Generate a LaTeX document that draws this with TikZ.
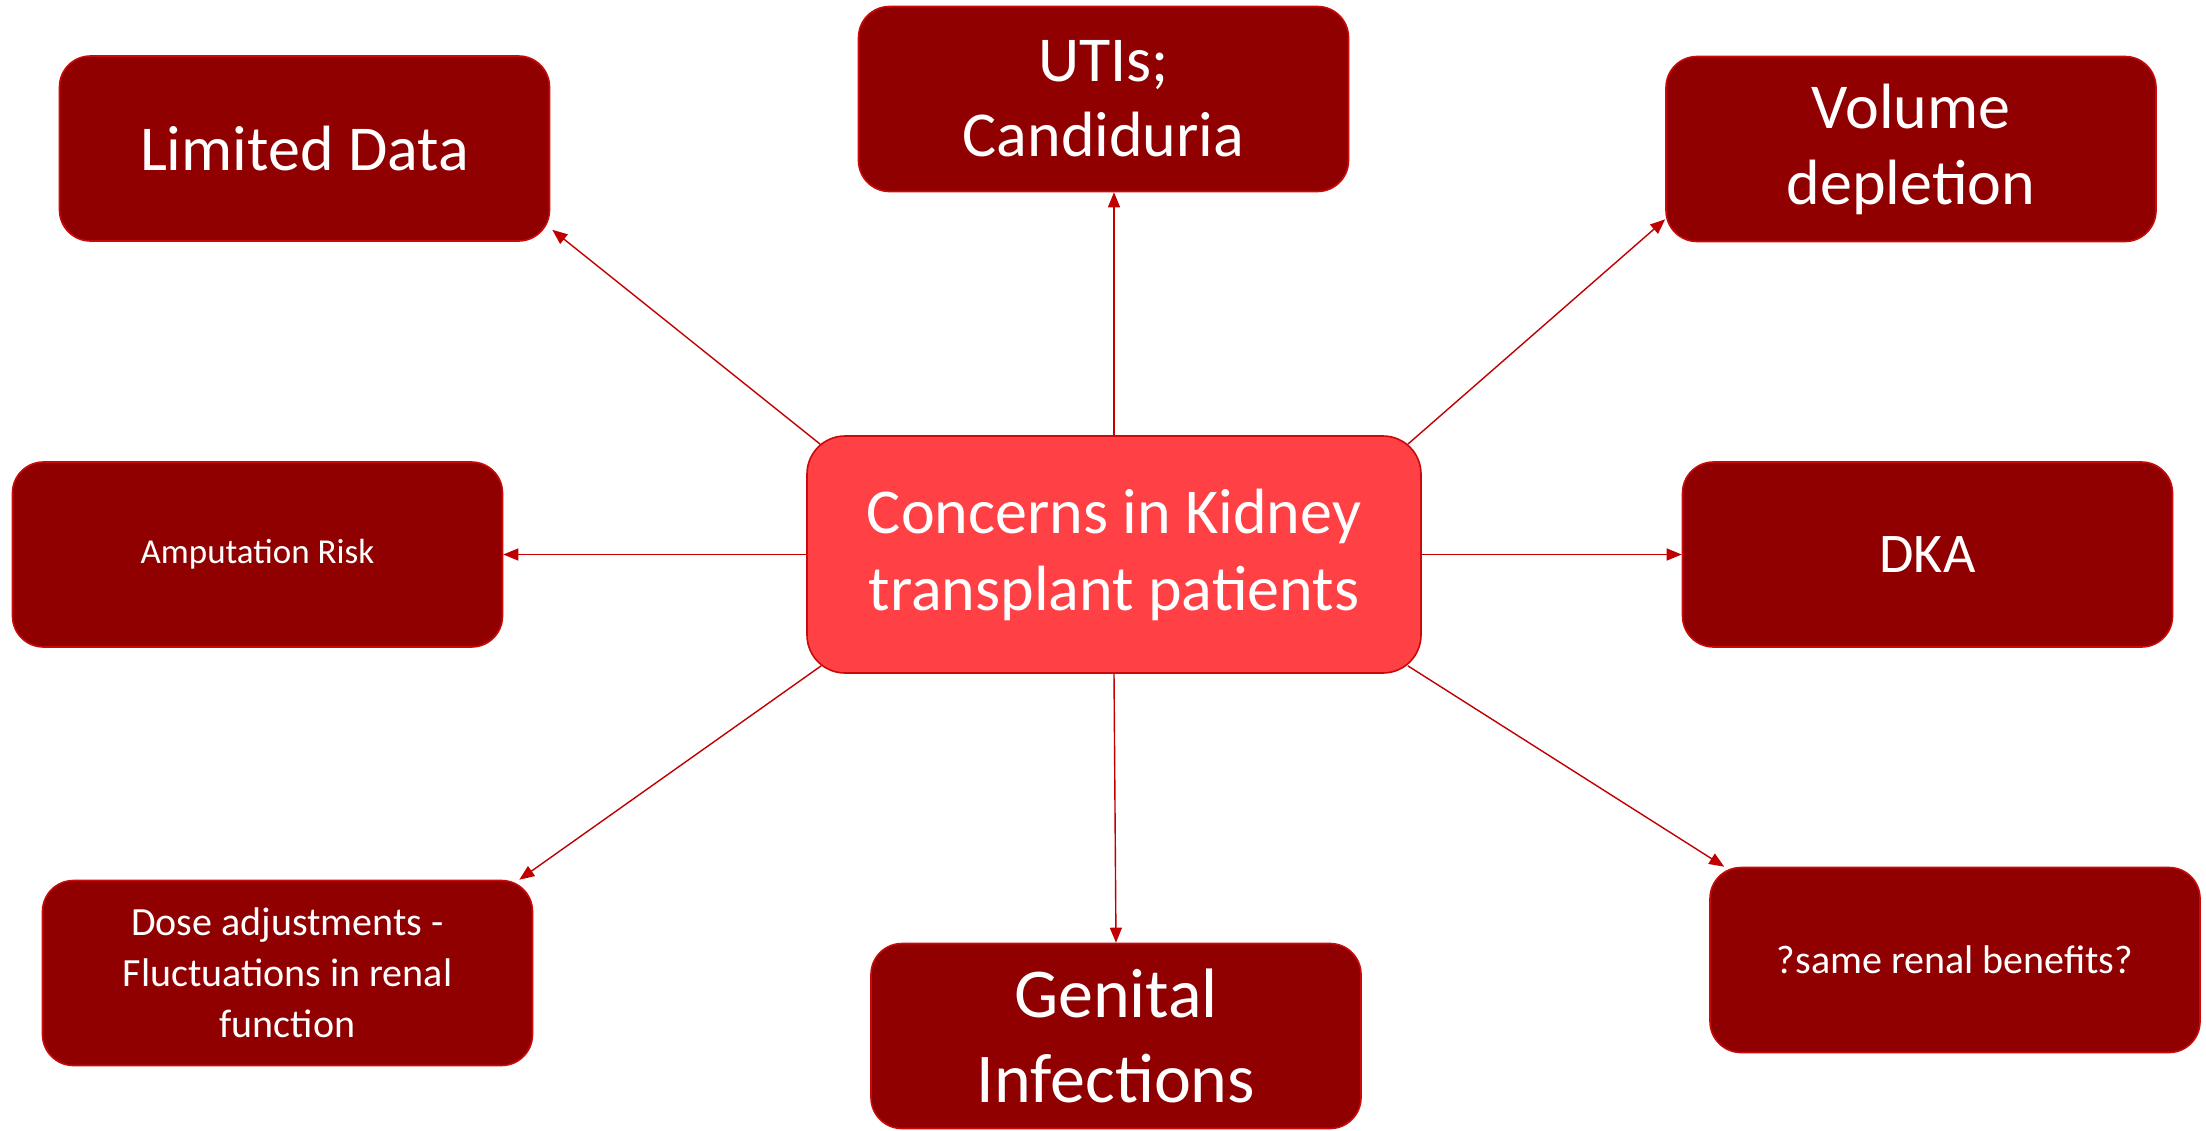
\documentclass[tikz,border=0pt]{standalone}
\usepackage{fontspec}
\setmainfont{Carlito}
\usetikzlibrary{arrows.meta}
\definecolor{darkbox}{RGB}{144,0,0}
\definecolor{boxline}{RGB}{200,10,10}
\definecolor{centerfill}{RGB}{255,64,68}
\definecolor{arrowred}{RGB}{192,0,0}
\tikzset{
  outerbox/.style={draw=boxline, line width=0.8pt, fill=darkbox, rounded corners=15.5pt,
    minimum width=245pt, minimum height=92.5pt, text=white, align=center, inner sep=0pt},
  centerbox/.style={draw=boxline, line width=0.8pt, fill=centerfill, rounded corners=19pt,
    minimum width=307pt, minimum height=118.5pt, text=white, align=center, inner sep=0pt},
  arr/.style={draw=arrowred, line width=0.7pt, -{Triangle[length=7.5pt,width=6pt]}}
}
\begin{document}
\begin{tikzpicture}[x=0.5pt,y=-0.5pt]
\useasboundingbox[fill=white] (0,0) rectangle (2206,1130);
\node[centerbox, font=\fontsize{32}{38.5}\selectfont] (c) at (1114,554.5) {Concerns in Kidney\\transplant patients};
\node[outerbox, font=\fontsize{32}{38.5}\selectfont] (ld) at (304.5,148.5) {Limited Data};
\node[outerbox, font=\fontsize{32}{37.5}\selectfont] (uti) at (1103.5,99) {UTIs;\\Candiduria};
\node[outerbox, font=\fontsize{32}{38}\selectfont] (vol) at (1911,149) {Volume\\depletion};
\node[outerbox, font=\fontsize{17.5}{21}\selectfont] (amp) at (257.5,554.5) {Amputation Risk};
\node[outerbox, font=\fontsize{28}{34}\selectfont] (dka) at (1927.5,554.5) {DKA};
\node[outerbox, font=\fontsize{20}{25.5}\selectfont] (dose) at (287.5,973) {Dose adjustments -\\Fluctuations in renal\\function};
\node[outerbox, font=\fontsize{35}{42.5}\selectfont] (gen) at (1116,1036) {Genital\\Infections};
\node[outerbox, font=\fontsize{20}{24}\selectfont] (same) at (1955,960) {?same renal benefits?};
\draw[arr] ([shift={(14,9)}]c.north west) -- ([shift={(2,-12)}]ld.south east);
\draw[arr] (c.north) -- (c.north |- uti.south);
\draw[arr] ([shift={(-14,9)}]c.north east) -- ([shift={(0,-23)}]vol.south west);
\draw[arr] (c.west) -- (amp.east);
\draw[arr] (c.east) -- (dka.west);
\draw[arr] ([shift={(15,-8)}]c.south west) -- ([shift={(-14,0)}]dose.north east);
\draw[arr] (c.south) -- (gen.north);
\draw[arr] ([shift={(-14,-8)}]c.south east) -- ([shift={(15,0)}]same.north west);
\end{tikzpicture}
\end{document}
